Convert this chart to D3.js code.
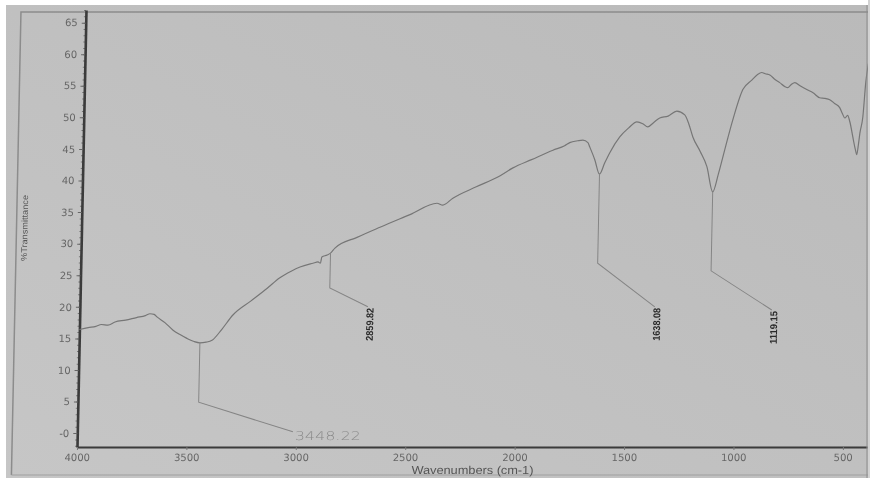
<!DOCTYPE html>
<html>
<head>
<meta charset="utf-8">
<script src="https://cdn.jsdelivr.net/npm/d3@7"></script>
<style>
  html, body { margin: 0; padding: 0; background: #fff; overflow: hidden; }
  text { font-family: "Liberation Sans", Arial, sans-serif; }
</style>
</head>
<body>
<div id="chart"></div>
<script>
// spectrum (cm-1 and %T)
const wavenumbers = [4000, 3960, 3925, 3900, 3870, 3838, 3790, 3740, 3700, 3679, 3660, 3647, 3610, 3572, 3540, 3508, 3475, 3448.22, 3420, 3393,
  3350, 3300, 3220, 3147, 3089, 3040, 2998, 2939, 2916, 2905, 2899, 2875, 2859.82, 2840, 2740, 2636, 2500, 2378, 2351, 2306,
  2200, 2100, 2034, 1950, 1853, 1800, 1777, 1740, 1717, 1694, 1685, 1661, 1638.08, 1615, 1593, 1549, 1510, 1472, 1445, 1422,
  1395, 1368, 1330, 1291, 1254, 1235, 1215, 1180, 1148, 1119.15, 1095, 1076, 1034, 991, 951, 925, 906, 890, 869, 845,
  823, 800, 786, 770, 754, 730, 699, 670, 639, 615, 593, 570, 546, 534, 522, 510, 499, 484, 472, 464,
  458, 452, 440, 430, 420];
const transmittance = [16.4, 16.7, 16.9, 17.2, 17.1, 17.6, 17.9, 18.3, 18.6, 18.9, 18.8, 18.4, 17.5, 16.3, 15.6, 15.0, 14.5, 14.3, 14.4, 14.7,
  16.4, 18.7, 20.9, 22.9, 24.6, 25.6, 26.3, 26.9, 27.1, 26.9, 27.9, 28.2, 28.5, 29.3, 31.0, 32.6, 34.6, 36.4, 36.1, 37.2,
  39.0, 40.6, 42.0, 43.3, 44.8, 45.5, 46.0, 46.3, 46.4, 46.0, 45.3, 43.3, 41.0, 42.8, 44.4, 46.9, 48.3, 49.3, 49.0, 48.5,
  49.2, 49.9, 50.2, 51.0, 50.4, 49.0, 46.9, 44.6, 42.2, 38.2, 41.0, 43.7, 49.6, 54.4, 55.9, 56.8, 57.1, 56.9, 56.7, 56.0,
  55.5, 54.9, 54.7, 55.2, 55.5, 55.0, 54.4, 53.9, 53.1, 53.0, 52.8, 52.2, 51.5, 50.6, 49.9, 50.3, 49.3, 46.9, 45.0, 44.1,
  45.6, 47.5, 50.1, 55.5, 58.5];

const xTicks = [4000, 3500, 3000, 2500, 2000, 1500, 1000, 500];
const yTicks = [0, 5, 10, 15, 20, 25, 30, 35, 40, 45, 50, 55, 60, 65];
const yMinorTicks = d3.range(-2, 68, 1);

// peak picks: leader goes down to an elbow, then slants off to the label
const peakLabels = ["3448.22", "2859.82", "1638.08", "1119.15"];
const peakWn = [3448.22, 2859.82, 1638.08, 1119.15];
const peakElbowT = [4.9, 23.0, 26.9, 25.7];
const peakEndWn = [3015, 2684, 1373, 838];
const peakEndT = [0.2, 20.0, 20.0, 19.5];

const W = 870, H = 481;
const svg = d3.select('#chart').append('svg').attr('width', W).attr('height', H);

const defs = svg.append('defs');
// paper, lit a bit more at the lower left
const grad = defs.append('linearGradient').attr('id', 'paper')
  .attr('x1', 0).attr('y1', 1).attr('x2', 1).attr('y2', 0);
grad.append('stop').attr('offset', 0).attr('stop-color', '#c6c6c6');
grad.append('stop').attr('offset', 1).attr('stop-color', '#bababa');
// it's a photo, nothing is quite sharp
defs.append('filter').attr('id', 'soft').attr('x', '-5%').attr('y', '-5%').attr('width', '110%').attr('height', '110%')
  .append('feGaussianBlur').attr('stdDeviation', 0.45);

svg.append('rect').attr('x', 6).attr('y', 5).attr('width', 862).attr('height', 473).attr('fill', 'url(#paper)');

const x = d3.scaleLinear().domain([4000, 390]).range([77, 867]);
const y = d3.scaleLinear().domain([-2.2, 67]).range([447, 10]);

// the sheet was shot at a slight angle, so everything leans right going up
const g = svg.append('g').attr('filter', 'url(#soft)')
  .append('g').attr('transform', 'translate(0,447) skewX(-1.18) translate(0,-447)');

// printed frame
g.append('path').attr('d', 'M12,475 V12 H900').attr('fill', 'none').attr('stroke', '#8c8c8c').attr('stroke-width', 1.5);
g.append('path').attr('d', 'M12,475 H900').attr('fill', 'none').attr('stroke', '#a0a0a0').attr('stroke-width', 1);

// y axis
g.append('g').attr('transform', 'translate(77,0)')
  .call(d3.axisLeft(y).tickValues(yMinorTicks).tickSize(2).tickSizeOuter(0).tickFormat(''))
  .call(a => a.select('.domain').remove())
  .call(a => a.selectAll('line').attr('stroke', '#777'));
const yAxis = g.append('g').attr('transform', 'translate(77,0)')
  .call(d3.axisLeft(y).tickValues(yTicks).tickSize(4).tickPadding(4).tickSizeOuter(0)
    .tickFormat(d => d === 0 ? '-0' : d));
yAxis.select('.domain').attr('stroke', '#3a3a3a').attr('stroke-width', 2.6);
yAxis.selectAll('line').attr('stroke', '#666');
yAxis.selectAll('text').attr('fill', '#666').attr('font-size', 10).style('font-family', 'DejaVu Sans, sans-serif');

// x axis
const xAxis = g.append('g').attr('transform', 'translate(0,447)')
  .call(d3.axisBottom(x).tickValues(xTicks).tickSize(3).tickPadding(4).tickSizeOuter(0).tickFormat(d3.format('d')));
xAxis.select('.domain').attr('stroke', '#3a3a3a').attr('stroke-width', 2);
xAxis.selectAll('line').attr('stroke', '#777');
xAxis.selectAll('text').attr('fill', '#666').attr('font-size', 10).style('font-family', 'DejaVu Sans, sans-serif');

g.append('text').attr('x', 473).attr('y', 474).attr('text-anchor', 'middle')
  .attr('font-size', 11.5).attr('fill', '#555').attr('textLength', 122).attr('lengthAdjust', 'spacingAndGlyphs')
  .text('Wavenumbers (cm-1)');
g.append('text').attr('transform', 'translate(23,228) rotate(-90)').attr('text-anchor', 'middle')
  .attr('font-size', 8.5).attr('fill', '#555').attr('textLength', 66).attr('lengthAdjust', 'spacingAndGlyphs')
  .text('%Transmittance');

// spectrum
const line = d3.line().x(d => x(d[0])).y(d => y(d[1])).curve(d3.curveMonotoneX);
g.append('path').datum(d3.zip(wavenumbers, transmittance))
  .attr('d', line).attr('fill', 'none').attr('stroke', '#767676').attr('stroke-width', 1.2);

// peak leaders and labels
peakWn.forEach((wn, i) => {
  const tAtPeak = transmittance[wavenumbers.indexOf(wn)];
  g.append('path')
    .attr('d', `M${x(wn)},${y(tAtPeak)} V${y(peakElbowT[i])} L${x(peakEndWn[i])},${y(peakEndT[i])}`)
    .attr('fill', 'none').attr('stroke', '#858585').attr('stroke-width', 1);
  if (i === 0) {
    // this one was written in by hand
    g.append('text').attr('x', x(peakEndWn[i]) + 2).attr('y', y(peakEndT[i]) + 8)
      .attr('font-size', 12).attr('fill', '#8a8a8a').attr('textLength', 66).attr('lengthAdjust', 'spacingAndGlyphs')
      .style('font-family', 'DejaVu Sans, sans-serif').style('font-weight', 300)
      .text(peakLabels[i]);
  } else {
    g.append('text')
      .attr('transform', `translate(${x(peakEndWn[i]) + 3},${y(peakEndT[i]) + 1}) rotate(-90)`)
      .attr('text-anchor', 'end').attr('dominant-baseline', 'middle')
      .attr('font-size', 10).attr('font-weight', 'bold').attr('fill', '#2a2a2a')
      .attr('textLength', 33).attr('lengthAdjust', 'spacingAndGlyphs')
      .text(peakLabels[i]);
  }
});

// edges of the photo
svg.append('rect').attr('x', 868).attr('y', 0).attr('width', 2).attr('height', H).attr('fill', '#d2d2d2');
svg.append('line').attr('x1', 867).attr('x2', 867).attr('y1', 5).attr('y2', 478).attr('stroke', '#8c8c8c').attr('stroke-width', 1);
svg.append('rect').attr('x', 0).attr('y', 478).attr('width', W).attr('height', 3).attr('fill', '#fff');
</script>
</body>
</html>
